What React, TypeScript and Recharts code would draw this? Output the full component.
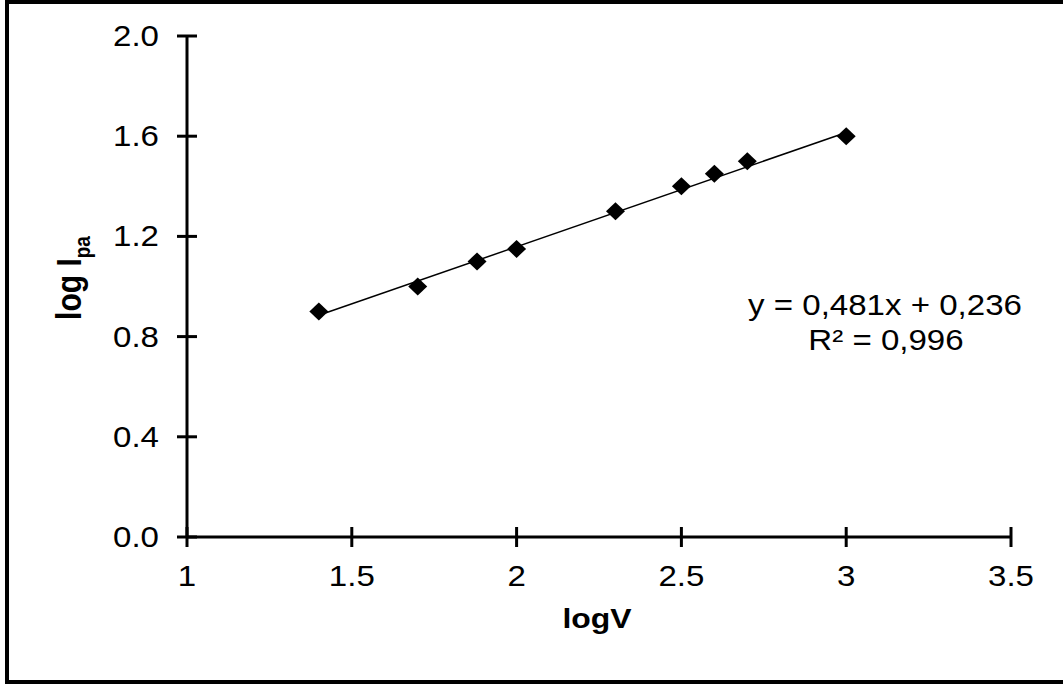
import { ScatterChart, Scatter, XAxis, YAxis } from 'recharts';

// measured points
const logV = [1.4, 1.7, 1.88, 2.0, 2.3, 2.5, 2.6, 2.7, 3.0];
const logIpa = [0.9, 1.0, 1.1, 1.15, 1.3, 1.4, 1.45, 1.5, 1.6];

// linear trendline, as drawn
const trendLogV = [1.4, 3.0];
const trendLogIpa = [0.885, 1.615];

const xTicks = [1, 1.5, 2, 2.5, 3, 3.5];
const yTicks = [0, 0.4, 0.8, 1.2, 1.6, 2.0];

const equation = 'y = 0,481x + 0,236';
const rSquared = 'R² = 0,996';

const points = logV.map((x, i) => ({ x, y: logIpa[i] }));
const trend = trendLogV.map((x, i) => ({ x, y: trendLogIpa[i] }));

const FONT = "'Liberation Sans', Arial, sans-serif";
const STRETCH = 1.14; // the source picture is a little wider than tall
const TICK = 10;

function XTick({ x, y, payload }: any) {
  const axisY = y - TICK;
  return (
    <g>
      <line x1={x} x2={x} y1={axisY - TICK} y2={axisY} stroke="#000" strokeWidth={3} />
      <g transform={`translate(${x},${axisY + 49})`}>
        <text transform={`scale(${STRETCH},1)`} textAnchor="middle" fontSize={29} fontFamily={FONT} fill="#000">
          {payload.value}
        </text>
      </g>
    </g>
  );
}

function YTick({ x, y, payload }: any) {
  const axisX = x + TICK;
  return (
    <g>
      <line x1={axisX} x2={axisX + TICK} y1={y} y2={y} stroke="#000" strokeWidth={3} />
      <g transform={`translate(${axisX - 28},${y + 10})`}>
        <text transform={`scale(${STRETCH},1)`} textAnchor="end" fontSize={29} fontFamily={FONT} fill="#000">
          {Number(payload.value).toFixed(1)}
        </text>
      </g>
    </g>
  );
}

function Diamond({ cx, cy }: any) {
  return <path d={`M${cx},${cy - 9}L${cx + 9.5},${cy}L${cx},${cy + 9}L${cx - 9.5},${cy}Z`} fill="#000" />;
}

const label = (left: number, top: number, extra: any = {}) => ({
  position: 'absolute' as const,
  left,
  top,
  transform: `translate(-50%,-50%) scaleX(${STRETCH})`,
  fontFamily: FONT,
  fontSize: 29,
  lineHeight: '29px',
  whiteSpace: 'nowrap' as const,
  color: '#000',
  ...extra,
});

export default function App() {
  return (
    <div style={{ position: 'absolute', left: 0, top: 0, width: 1063, height: 686, overflow: 'hidden', background: '#fff' }}>
      <div style={{ position: 'absolute', left: 5, top: 0, width: 1200, height: 684, boxSizing: 'border-box', borderLeft: '4px solid #000', borderTop: '4px solid #000', borderBottom: '4px solid #000' }} />

      <div style={{ position: 'absolute', left: 0, top: 0 }}>
        <ScatterChart width={1063} height={686} margin={{ top: 36, right: 52, left: 127, bottom: 109 }}>
          <XAxis
            type="number"
            dataKey="x"
            domain={[1, 3.5]}
            ticks={xTicks}
            height={40}
            axisLine={{ stroke: '#000', strokeWidth: 3 }}
            tickLine={{ stroke: '#000', strokeWidth: 3 }}
            tickSize={TICK}
            tickMargin={0}
            tick={<XTick />}
            interval={0}
          />
          <YAxis
            type="number"
            dataKey="y"
            domain={[0, 2]}
            ticks={yTicks}
            width={60}
            axisLine={{ stroke: '#000', strokeWidth: 3 }}
            tickLine={{ stroke: '#000', strokeWidth: 3 }}
            tickSize={TICK}
            tickMargin={0}
            tick={<YTick />}
            interval={0}
          />
          <Scatter data={trend} line={{ stroke: '#000', strokeWidth: 1.5 }} shape={() => <g />} isAnimationActive={false} />
          <Scatter data={points} shape={<Diamond />} isAnimationActive={false} />
        </ScatterChart>
      </div>

      <div style={label(885, 305)}>{equation}</div>
      <div style={label(886, 340)}>{rSquared}</div>
      <div style={label(597, 618, { fontWeight: 'bold', fontSize: 28 })}>logV</div>
      <div
        style={{
          ...label(72, 278, { fontWeight: 'bold', fontSize: 30, lineHeight: '30px' }),
          transform: `translate(-50%,-50%) scaleX(${STRETCH}) rotate(-90deg)`,
        }}
      >
        log I<span style={{ fontSize: 19, position: 'relative', top: 8 }}>pa</span>
      </div>
    </div>
  );
}
